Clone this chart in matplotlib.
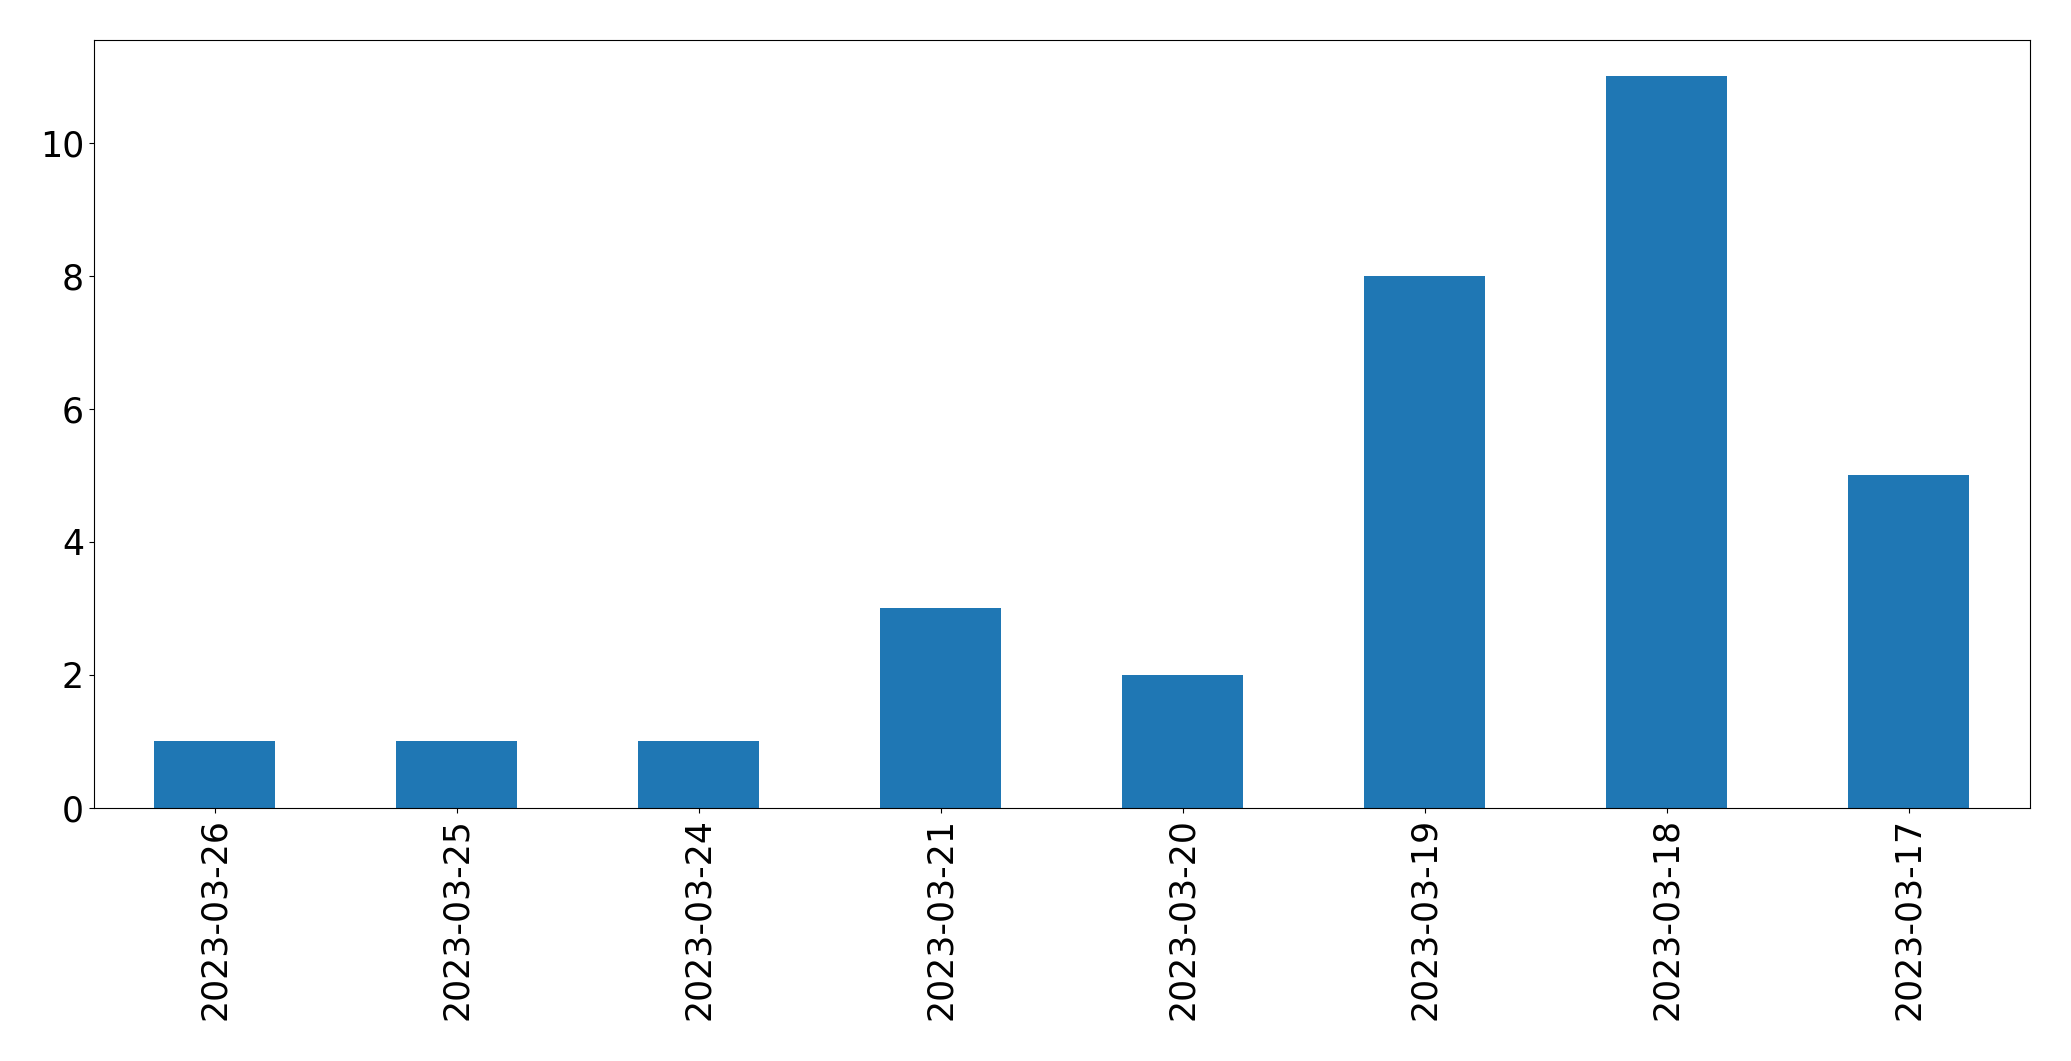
import matplotlib
matplotlib.use("Agg")
import matplotlib.pyplot as plt
import pandas as pd

dates = ["2023-03-26", "2023-03-25", "2023-03-24", "2023-03-21",
         "2023-03-20", "2023-03-19", "2023-03-18", "2023-03-17"]
counts = [1, 1, 1, 3, 2, 8, 11, 5]

s = pd.Series(counts, index=dates)

fig, ax = plt.subplots(figsize=(20.71, 10.61), dpi=100)
s.plot.bar(ax=ax, color="#1f77b4", width=0.5)
ax.tick_params(axis="both", labelsize=25)
fig.subplots_adjust(left=0.0453, right=0.980, top=0.9627, bottom=0.2385)
fig.savefig("out.png", dpi=100)
